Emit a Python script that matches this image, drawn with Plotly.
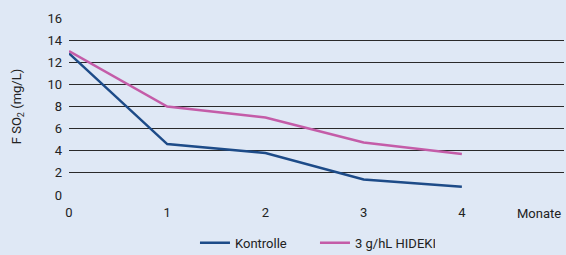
import plotly.graph_objects as go

months = [0, 1, 2, 3, 4]
kontrolle = [12.8, 4.6, 3.8, 1.4, 0.75]
hideki = [13.0, 8.0, 7.0, 4.75, 3.7]
y_ticks = [0, 2, 4, 6, 8, 10, 12, 14, 16]
x_ticks = [0, 1, 2, 3, 4]

FONT = "Roboto, Liberation Sans Narrow, sans-serif"
BG = "#dfe8f5"

fig = go.Figure()
fig.add_trace(go.Scatter(x=months, y=kontrolle, mode="lines", name="Kontrolle",
                         line=dict(color="#1d4b88", width=2.5)))
fig.add_trace(go.Scatter(x=months, y=hideki, mode="lines", name="3 g/hL HIDEKI",
                         line=dict(color="#c45ca8", width=2.5)))

fig.update_layout(
    width=566, height=255, autosize=False,
    paper_bgcolor=BG, plot_bgcolor=BG,
    margin=dict(l=69, r=2, t=18, b=60, autoexpand=False),
    font=dict(family=FONT, size=13, color="#222"),
    showlegend=True,
    legend=dict(orientation="h", x=0.2545, xanchor="left", y=-0.27, yanchor="middle",
                bgcolor="rgba(0,0,0,0)", itemwidth=30, font=dict(size=13),
                entrywidth=75, entrywidthmode="pixels", tracegroupgap=0),
    xaxis=dict(range=[0, 5.04], tickvals=x_ticks, showgrid=False, zeroline=False,
               showline=False, ticks="", ticklabelstandoff=8, fixedrange=True,
               automargin=False),
    yaxis=dict(range=[0, 16], tickvals=y_ticks, showgrid=True, gridcolor="#2a2a2a",
               gridwidth=1.3, zeroline=False, showline=False, ticks="",
               ticklabelstandoff=6, automargin=False, fixedrange=True,
               title=dict(text="F SO<sub>2</sub> (mg/L)", standoff=22, font=dict(size=13))),
)
fig.add_annotation(text="Monate", x=4.79, y=0, xref="x", yref="y", yshift=-18,
                   showarrow=False, font=dict(size=13, family=FONT, color="#222"))

fig.write_html(
    "out.html",
    config={"responsive": False, "displayModeBar": False},
    post_script="document.body.style.margin='0';document.body.style.overflow='hidden';",
)
